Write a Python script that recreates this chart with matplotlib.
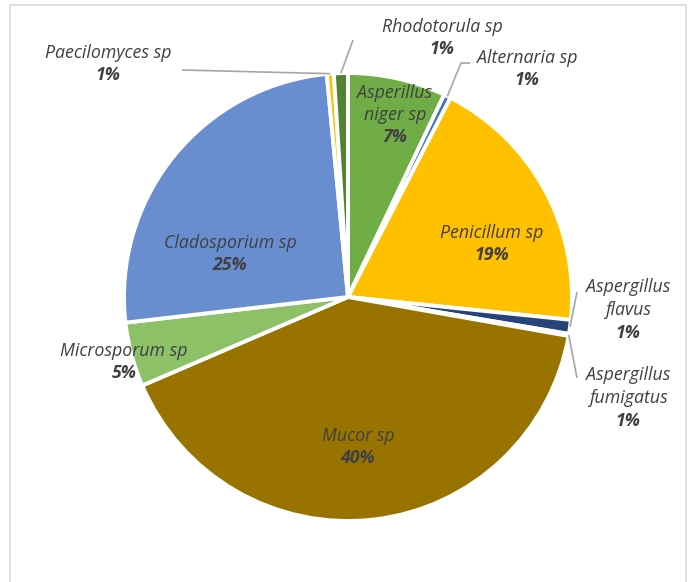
import numpy as np
import matplotlib.pyplot as plt
from matplotlib.patches import Rectangle

# 数据（顺时针，从 12 点方向开始）
species = ["Asperillus\nniger sp", "Alternaria sp", "Penicillum sp", "Aspergillus\nflavus",
           "Aspergillus\nfumigatus", "Mucor sp", "Microsporum sp", "Cladosporium sp",
           "Paecilomyces sp", "Rhodotorula sp"]
shares = [7.0, 0.5, 18.9, 1.0, 0.15, 40.4, 4.6, 25.1, 0.5, 1.0]
pct_labels = ["7%", "1%", "19%", "1%", "1%", "40%", "5%", "25%", "1%", "1%"]
colors = ["#70AD47", "#4472C4", "#FFC000", "#264478", "#636363",
          "#997300", "#8CC168", "#698ED0", "#FFC000", "#548235"]

W, H = 688, 582
cx, cy, R = 348, H - 297, 224

# 标签位置（像素，y 从上往下）, 引导线终点（None 表示标签在扇区内部）
label_pos = [(395, 115), (527, 69), (492, 244), (628, 310), (628, 398),
             (358, 447), (124, 362), (230, 254), (108, 64), (442, 38)]
leader_end = [None, [(470, 63), (461, 63)], None, [(577, 292)], [(577, 378)],
              None, None, None, [(182, 70)], [(353, 40)]]

plt.rcParams['font.family'] = ['Open Sans', 'DejaVu Sans']
fig = plt.figure(figsize=(W / 100, H / 100), dpi=100)
ax = fig.add_axes([0, 0, 1, 1])

# 外框
fig.patches.append(Rectangle((10 / W, -0.1), 676 / W, (H - 5) / H + 0.1,
                             transform=fig.transFigure, fill=False,
                             edgecolor="#D9D9D9", linewidth=1.2))

wedges, _ = ax.pie(shares, colors=colors, startangle=90, counterclock=False,
                   center=(cx, cy), radius=R, frame=True,
                   wedgeprops=dict(edgecolor="white", linewidth=2.8))
ax.set_xlim(0, W)
ax.set_ylim(0, H)
ax.set_aspect("equal")
ax.axis("off")

txt_color = "#404040"
for w, name, pct, (lx, ly), ends in zip(wedges, species, pct_labels, label_pos, leader_end):
    # 名称斜体，百分比粗斜体，逐行绘制
    lines = name.split("\n") + [pct]
    step = 22.5
    y0 = H - ly + step * (len(lines) - 1) / 2
    for i, s in enumerate(lines):
        ax.text(lx, y0 - i * step, s, ha="center", va="center", fontsize=12.8,
                color=txt_color, style="italic",
                fontweight="bold" if i == len(lines) - 1 else "normal")
    if ends is not None:
        mid = np.deg2rad((w.theta1 + w.theta2) / 2)
        px = [cx + R * np.cos(mid)] + [e[0] for e in ends[::-1]]
        py = [cy + R * np.sin(mid)] + [H - e[1] for e in ends[::-1]]
        ax.plot(px, py, color="#A6A6A6", linewidth=1.2, solid_capstyle="butt")

fig.savefig("out.png", dpi=100)
